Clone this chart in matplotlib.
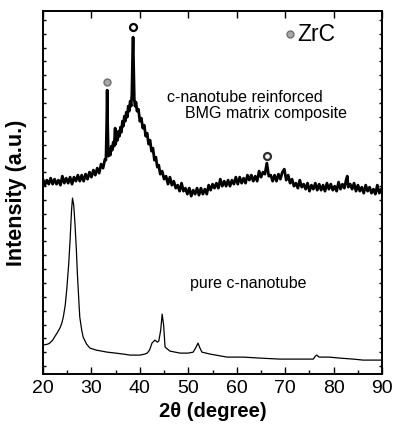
import numpy as np
import matplotlib.pyplot as plt
from matplotlib.ticker import MultipleLocator

plt.rcParams['font.family'] = ['Liberation Sans', 'DejaVu Sans']

# XRD pattern of the composite (2theta in degree, intensity in a.u.), noisy trace
comp_2theta = [20.0, 20.4, 20.8, 21.2, 21.6, 22.0, 22.4, 22.8, 23.2, 23.6, 24.0, 24.4,
               24.8, 25.2, 25.6, 26.0, 26.4, 26.8, 27.2, 27.6, 28.0, 28.4, 28.8, 29.2,
               29.6, 30.0, 30.4, 30.8, 31.2, 31.6, 32.0, 32.4, 32.8,
               33.0, 33.15, 33.25, 33.35, 33.5, 33.7, 33.9, 34.1, 34.3, 34.5, 34.7, 34.9,
               35.0, 35.2, 35.4, 35.6, 35.8, 36.0, 36.2, 36.4, 36.6, 36.8, 37.0, 37.2,
               37.4, 37.6, 37.8, 38.0, 38.2, 38.35, 38.5, 38.6, 38.7, 38.85, 39.0, 39.2,
               39.4, 39.7, 40.0, 40.3, 40.6, 40.9, 41.2, 41.5, 41.8, 42.1, 42.4, 42.7,
               43.0, 43.3, 43.6, 43.9, 44.2,
               44.6, 45.0, 45.4, 45.8, 46.2, 46.6, 47.0, 47.4, 47.8, 48.2, 48.6, 49.0,
               49.4, 49.8, 50.2, 50.6, 51.0, 51.4, 51.8, 52.2, 52.6, 53.0, 53.4, 53.8,
               54.2, 54.6, 55.0, 55.4, 55.8, 56.2, 56.6, 57.0, 57.4, 57.8, 58.2, 58.6,
               59.0, 59.4, 59.8, 60.2, 60.6, 61.0, 61.4, 61.8, 62.2, 62.6, 63.0, 63.4,
               63.8, 64.2, 64.6, 65.0, 65.4, 65.8, 66.2, 66.6, 67.0, 67.4, 67.8, 68.2,
               68.6, 69.0, 69.4, 69.8, 70.2, 70.6, 71.0, 71.4, 71.8, 72.2, 72.6, 73.0,
               73.4, 73.8, 74.2, 74.6, 75.0, 75.4, 75.8, 76.2, 76.6, 77.0, 77.4, 77.8,
               78.2, 78.6, 79.0, 79.4, 79.8, 80.2, 80.6, 81.0, 81.4, 81.8, 82.2, 82.6,
               82.8, 83.0, 83.4, 83.8, 84.2, 84.6, 85.0, 85.4, 85.8, 86.2, 86.6, 87.0,
               87.4, 87.8, 88.2, 88.6, 89.0, 89.4, 89.8, 90.0]
comp_int = [195, 189, 194, 190, 196, 190, 195, 190, 194, 189, 198, 191,
            196, 191, 197, 190, 197, 193, 199, 193, 199, 193, 200, 195,
            202, 197, 204, 199, 206, 201, 210, 206, 215,
            214, 250, 284, 250, 218, 224, 219, 228, 224, 232, 228, 246,
            230, 238, 234, 243, 238, 247, 242, 253, 248, 258, 253, 262,
            257, 268, 263, 273, 268, 280, 320, 337, 310, 275, 268, 272,
            263, 265, 253, 256, 246, 249, 238, 241, 230, 234, 223, 226,
            214, 217, 207, 209, 200,
            203, 195, 198, 190, 197, 189, 193, 186, 189, 183, 191, 183,
            186, 180, 186, 178, 184, 180, 186, 179, 186, 180, 185, 180,
            189, 184, 190, 186, 191, 186, 195, 188, 193, 188, 194, 188,
            194, 190, 197, 190, 197, 191, 196, 191, 199, 194, 199, 193,
            198, 193, 203, 197, 202, 200, 211, 198, 199, 193, 199, 193,
            200, 195, 202, 205, 194, 199, 191, 195, 188, 191, 186, 194,
            187, 190, 185, 191, 183, 189, 185, 191, 184, 190, 184, 189,
            183, 191, 185, 190, 184, 188, 183, 192, 185, 190, 186, 195,
            198, 187, 190, 185, 191, 183, 189, 183, 187, 181, 189, 183,
            187, 181, 185, 180, 189, 181, 185, 182]

# XRD pattern of the pure c-nanotube
pure_2theta = [20.0, 21.0, 21.4, 22.0, 22.9, 23.5, 23.9, 24.2, 24.6, 24.9, 25.3, 25.6,
               25.9, 26.1, 26.35, 26.6, 26.9, 27.1, 27.4, 27.6, 28.0, 28.3, 29.0, 29.7,
               31.0, 33.2, 35.0, 36.6, 38.0, 40.0, 41.0, 41.5, 42.0, 42.5, 43.1, 43.6,
               43.9, 44.3, 44.6, 44.9, 45.2, 46.2, 48.3, 50.0, 51.0, 51.6, 52.0, 52.4,
               52.8, 54.5, 58.0, 61.3, 64.8, 68.9, 72.0, 75.8, 76.2, 76.5, 77.0, 77.8,
               79.0, 81.3, 84.0, 86.1, 90.0]
pure_int = [29, 30, 31, 34, 41, 46, 51, 57, 69, 84, 109, 134,
            164, 176, 169, 151, 124, 101, 74, 57, 44, 37, 30, 26,
            24, 22, 21, 20, 19, 19, 20, 21, 24, 31, 34, 32,
            33, 44, 60, 49, 27, 23, 21, 21, 22, 27, 31, 26,
            22, 20, 17, 17, 16, 15, 15, 15, 18, 19, 17, 17,
            17, 16, 15, 14, 14]

# ZrC peak markers
zrc_2theta = [33.3, 38.6, 66.3]
zrc_int = [292, 347, 218]
zrc_face = ['#a8a8a8', 'white', 'white']
zrc_edge = ['#707070', 'black', '#303030']

fig, ax = plt.subplots(figsize=(3.94, 4.30), dpi=100)
fig.subplots_adjust(left=0.109, right=0.970, top=0.974, bottom=0.130)

ax.plot(comp_2theta, comp_int, color='black', lw=2.0)
ax.plot(pure_2theta, pure_int, color='black', lw=0.9)

for x, y, fc, ec in zip(zrc_2theta, zrc_int, zrc_face, zrc_edge):
    ax.plot(x, y, 'o', ms=5, mfc=fc, mec=ec, mew=1.6 if fc == 'white' else 1.0)

# legend-like label
ax.plot(0.729, 0.937, 'o', ms=5, mfc='#a8a8a8', mec='#707070', mew=1.0,
        transform=ax.transAxes, clip_on=False)
ax.text(0.749, 0.937, 'ZrC', transform=ax.transAxes, fontsize=16.5, va='center')

ax.text(0.366, 0.762, 'c-nanotube reinforced', transform=ax.transAxes, fontsize=11.5, va='center')
ax.text(0.419, 0.718, 'BMG matrix composite', transform=ax.transAxes, fontsize=11.5, va='center')
ax.text(0.434, 0.251, 'pure c-nanotube', transform=ax.transAxes, fontsize=11.5, va='center')

ax.set_xlim(20, 90)
ax.set_ylim(0, 363)
ax.xaxis.set_major_locator(MultipleLocator(10))
ax.xaxis.set_minor_locator(MultipleLocator(5))
ax.set_yticks(np.arange(8.0, 363, 13.85))
ax.set_yticklabels([])
ax.tick_params(axis='x', which='major', direction='in', length=5, width=1, top=True, labelsize=14, pad=4)
ax.tick_params(axis='x', which='minor', direction='in', length=3, width=1, top=False)
ax.tick_params(axis='y', which='major', direction='in', length=2.5, width=1, right=True)
for s in ax.spines.values():
    s.set_linewidth(1.4)

ax.set_xlabel('2θ (degree)', fontsize=14.5, fontweight='bold', labelpad=4)
ax.set_ylabel('Intensity (a.u.)', fontsize=15.5, fontweight='bold', labelpad=8)

plt.savefig('out.png', dpi=100)
